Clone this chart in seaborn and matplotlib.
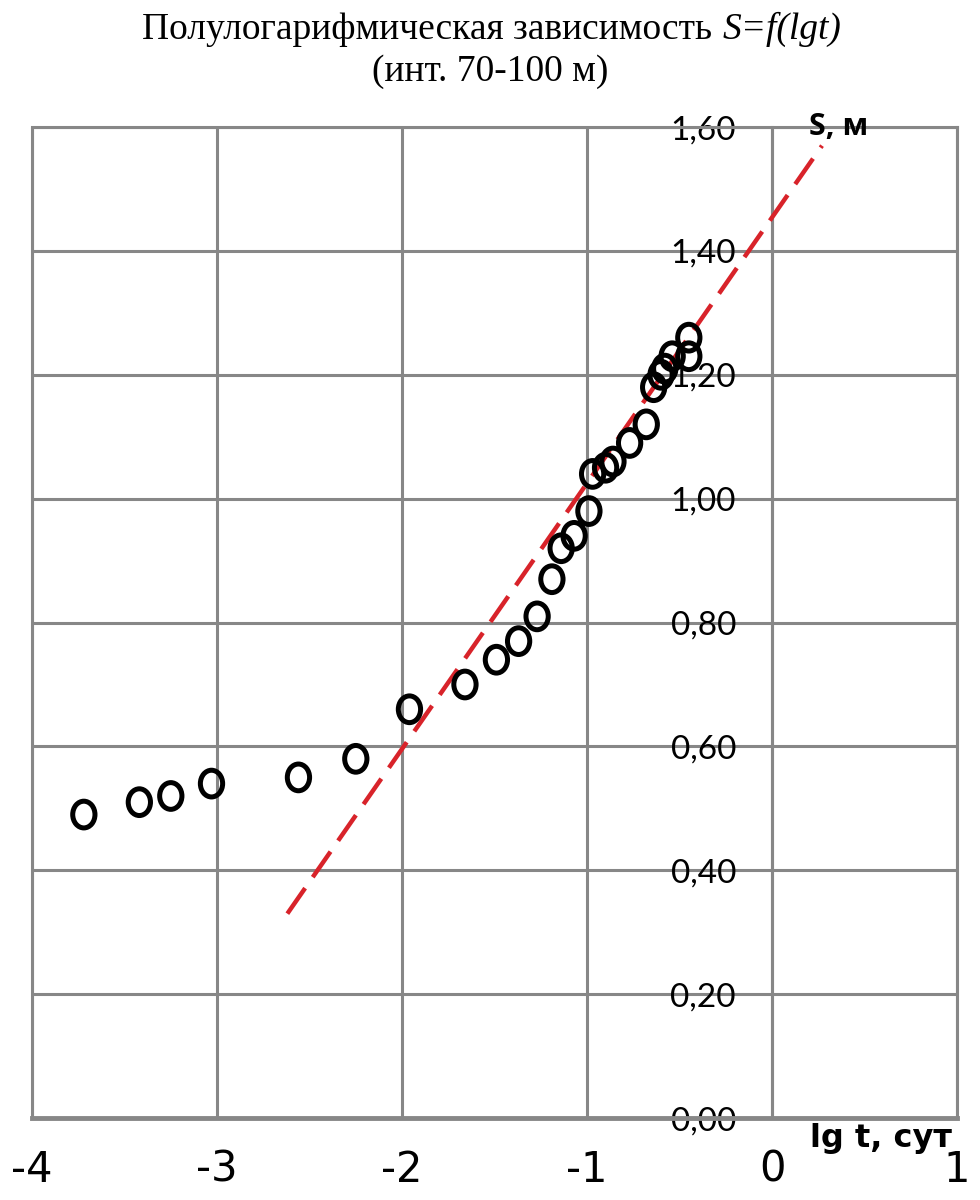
import matplotlib
matplotlib.use("Agg")
import matplotlib.pyplot as plt
from matplotlib.path import Path
from matplotlib.transforms import Affine2D
import pandas as pd
import seaborn as sns

# measured points: lg t (сут) and drawdown S (м)
lg_t = [-3.72, -3.42, -3.25, -3.03, -2.56, -2.25, -1.96, -1.66, -1.49, -1.37,
        -1.27, -1.19, -1.14, -1.07, -0.99, -0.97, -0.90, -0.86, -0.77, -0.68,
        -0.64, -0.60, -0.58, -0.54, -0.45, -0.45]
s_m = [0.49, 0.51, 0.52, 0.54, 0.55, 0.58, 0.66, 0.70, 0.74, 0.77,
       0.81, 0.87, 0.92, 0.94, 0.98, 1.04, 1.05, 1.06, 1.09, 1.12,
       1.18, 1.20, 1.21, 1.23, 1.23, 1.26]

# straight-line fit drawn on the chart
trend_lg_t = [-2.62, 0.27]
trend_s = [0.33, 1.57]

x_ticks = [-4, -3, -2, -1, 0, 1]
y_ticks = [0.0, 0.2, 0.4, 0.6, 0.8, 1.0, 1.2, 1.4, 1.6]
y_labels = ["0,00", "0,20", "0,40", "0,60", "0,80", "1,00", "1,20", "1,40", "1,60"]

points = pd.DataFrame({"lg_t": lg_t, "s": s_m})
trend = pd.DataFrame({"lg_t": trend_lg_t, "s": trend_s})

sns.set_style("white")
plt.rcParams["font.family"] = ["Lato", "DejaVu Sans"]
plt.rcParams["text.color"] = "black"
plt.rcParams["xtick.labelcolor"] = "black"
plt.rcParams["ytick.labelcolor"] = "black"

grid_col = "#878787"

fig = plt.figure(figsize=(9.8, 12), dpi=100)
ax = fig.add_axes([0.0327, 0.0683, 0.9439, 0.8258])

# slightly tall ellipse, the original picture is stretched vertically
ring = Path.unit_circle().transformed(Affine2D().scale(1.0, 1.2))

sns.lineplot(data=trend, x="lg_t", y="s", ax=ax, color="#d8232a", lw=3.2,
             dashes=False, zorder=3)
ax.lines[-1].set_dashes((7, 3))
ax.lines[-1].set_dash_capstyle("butt")
sns.scatterplot(data=points, x="lg_t", y="s", ax=ax, marker=ring, s=370,
                facecolor="none", edgecolor="black", linewidth=3.6, zorder=4)

# y axis crosses at lg t = 0 (spine move resets ticks, so do it first)
ax.spines["left"].set_position(("data", 0))

ax.set_xlim(-4, 1)
ax.set_ylim(0, 1.6)
ax.set_xticks(x_ticks)
ax.set_xticklabels([str(v) for v in x_ticks])
ax.set_yticks(y_ticks)
ax.set_yticklabels(y_labels)
for lab in ax.get_xticklabels():
    lab.set_family(["Liberation Sans Narrow", "DejaVu Sans"])
    lab.set_fontsize(30)
for lab in ax.get_yticklabels():
    lab.set_fontsize(24)
ax.grid(True, color=grid_col, lw=2.2)
ax.set_axisbelow(True)

for side in ["left", "right", "top"]:
    ax.spines[side].set_color(grid_col)
    ax.spines[side].set_linewidth(2.2)
ax.spines["bottom"].set_color(grid_col)
ax.spines["bottom"].set_linewidth(3.5)
ax.axvline(-4, color=grid_col, lw=2.2, clip_on=False, zorder=1)

ax.tick_params(axis="y", length=0, pad=26)
ax.tick_params(axis="x", direction="out", length=9, width=2, color=grid_col, pad=13)
ax.set_xlabel("")
ax.set_ylabel("")

ax.text(0.2, 1.6, "S, м", fontsize=22, fontweight="bold", va="center", ha="left",
        family=["Open Sans", "DejaVu Sans"])
ax.text(0.97, -0.033, "lg t, сут", fontsize=23, fontweight="bold", va="center", ha="right",
        family=["Liberation Sans Narrow", "DejaVu Sans"], clip_on=False)

# title: upright words followed by an italic formula
t1 = fig.text(0.727, 0.975, "Полулогарифмическая зависимость", ha="right", va="center",
              fontsize=27, family="Liberation Serif")
ax.annotate("S=f(lgt)", xy=(1, 0), xycoords=t1, xytext=(7, 0), textcoords="offset points",
            ha="left", va="bottom", fontsize=27, family="Liberation Serif", style="italic",
            annotation_clip=False)
fig.text(0.5, 0.94, "(инт. 70-100 м)", ha="center", va="center", fontsize=27,
         family="Liberation Serif")

fig.savefig("out.png", dpi=100)
